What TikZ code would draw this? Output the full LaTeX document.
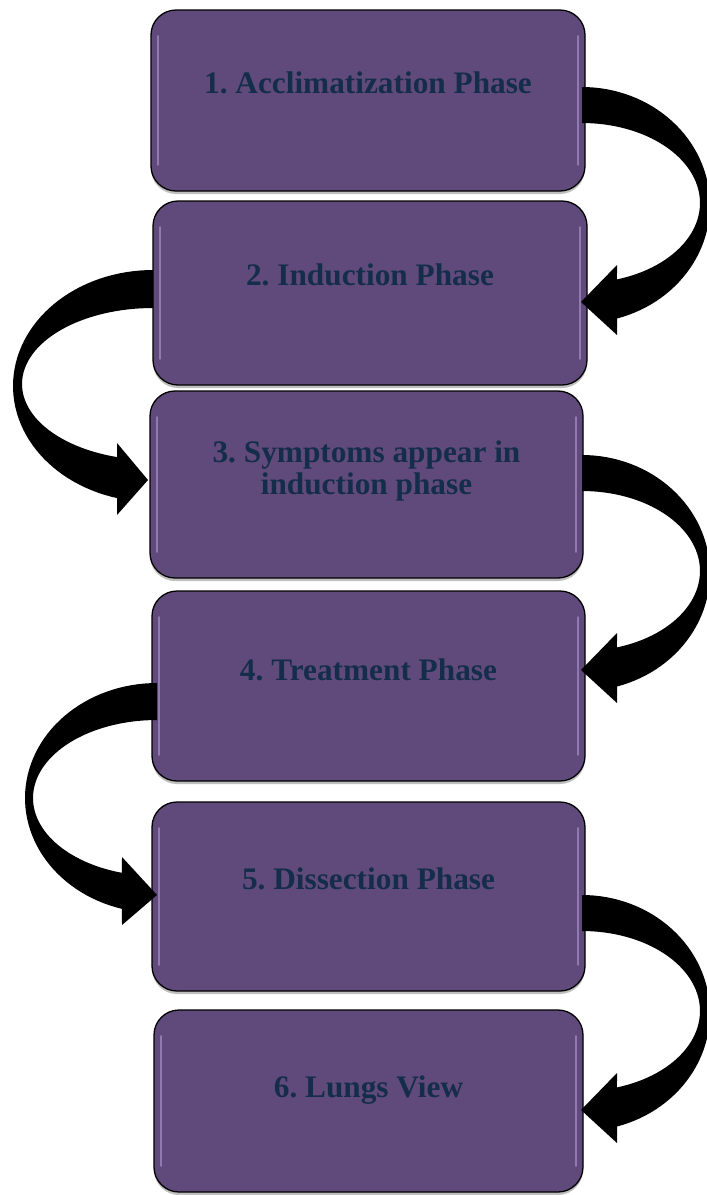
\documentclass[tikz,border=0pt]{standalone}
\usepackage{fontspec}
\setmainfont{Liberation Serif}
\usetikzlibrary{shadows}
\definecolor{boxfill}{HTML}{604A7B}
\definecolor{txtcol}{HTML}{142D4A}
\definecolor{hlcol}{HTML}{8F7BB0}
\frenchspacing
\tikzset{
  phasebox/.style={draw=black, line width=1.3pt, fill=boxfill, rounded corners=25pt,
    inner sep=0pt, outer sep=0pt,
    drop shadow={shadow xshift=0pt, shadow yshift=-3pt, opacity=.25, fill=black}},
  phasetext/.style={anchor=base, text=txtcol, inner sep=0pt,
    font=\fontsize{31.3}{32}\selectfont\bfseries},
  highlight/.style={draw=hlcol, line width=1.8pt, line cap=round},
  bigarrow/.style={fill=black}
}
\begin{document}
\begin{tikzpicture}[x=1pt,y=-1pt]
\useasboundingbox (0,0) rectangle (707,1195);

% boxes
\node[phasebox, minimum width=434pt, minimum height=181pt] (b1) at (368,100.5) {};
\node[phasebox, minimum width=434pt, minimum height=184pt] (b2) at (370,293) {};
\node[phasebox, minimum width=433pt, minimum height=187pt] (b3) at (366.5,484.5) {};
\node[phasebox, minimum width=433pt, minimum height=190pt] (b4) at (368.5,686) {};
\node[phasebox, minimum width=433pt, minimum height=189pt] (b5) at (368.5,896.5) {};
\node[phasebox, minimum width=429pt, minimum height=182pt] (b6) at (368.5,1101) {};

% glossy side highlights
\foreach \n in {b1,b2,b3,b4,b5,b6}{
  \draw[highlight] ([xshift=7pt,yshift=-26pt]\n.north west) -- ([xshift=7pt,yshift=26pt]\n.south west);
  \draw[highlight] ([xshift=-7pt,yshift=-26pt]\n.north east) -- ([xshift=-7pt,yshift=26pt]\n.south east);
}

% texts
\node[phasetext] (t1) at (368,93) {1. Acclimatization Phase};
\node[phasetext] (t2) at (370,285) {2. Induction Phase};
\node[phasetext] (t3a) at (366.5,462) {3. Symptoms appear in};
\node[phasetext] (t3b) at (366.5,494) {induction phase};
\node[phasetext] (t4) at (368.5,680) {4. Treatment Phase};
\node[phasetext] (t5) at (368.5,889) {5. Dissection Phase};
\node[phasetext] (t6) at (368.5,1097) {6. Lungs View};

% right-side curved arrows (1->2, 3->4, 5->6)
\foreach \yy in {87,455,895}{
\begin{scope}[shift={(582,\yy)}]
\fill[bigarrow] (0,0)
  -- plot[domain=-90:74.13, samples=60, variable=\t] ({128*cos(\t)},{118+118*sin(\t)})
  -- (35,248) -- (-1,215) -- (35,178)
  -- plot[domain=72.75:-90, samples=60, variable=\t] ({118*cos(\t)},{116+80*sin(\t)})
  -- cycle;
\end{scope}
}

% left-side curved arrow 2->3
\begin{scope}[shift={(153,270)}]
\fill[bigarrow] (0,0)
  -- plot[domain=270:104.9, samples=60, variable=\t] ({140*cos(\t)},{116+116*sin(\t)})
  -- (-36,245) -- (-5,210) -- (-36,173)
  -- plot[domain=105.95:270, samples=60, variable=\t] ({131*cos(\t)},{114+76*sin(\t)})
  -- cycle;
\end{scope}

% left-side curved arrow 4->5
\begin{scope}[shift={(157,683)}]
\fill[bigarrow] (0,0)
  -- plot[domain=270:105.38, samples=60, variable=\t] ({132*cos(\t)},{115+115*sin(\t)})
  -- (-35,242) -- (0,212) -- (-35,174)
  -- plot[domain=106.4:270, samples=60, variable=\t] ({124*cos(\t)},{115+78*sin(\t)})
  -- cycle;
\end{scope}
\end{tikzpicture}
\end{document}
